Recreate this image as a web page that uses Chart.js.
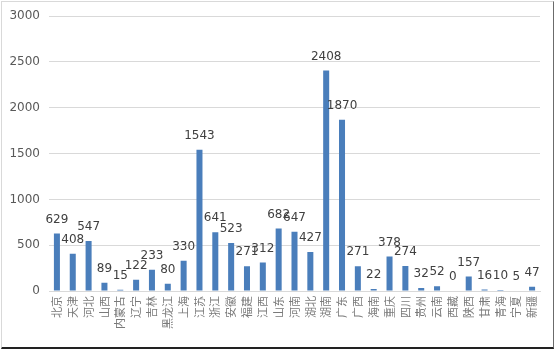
<!DOCTYPE html>
<html>
<head>
<meta charset="utf-8">
<script src="https://cdn.jsdelivr.net/npm/chart.js@4/dist/chart.umd.min.js"></script>
<style>
  html, body { margin: 0; padding: 0; background: #fff; }
  #wrap { position: relative; width: 556px; height: 350px; overflow: hidden; }
  #c { position: absolute; left: 0; top: 0; }
  #frame {
    position: absolute; left: 1px; top: 1px; width: 551px; height: 345px;
    border-left: 1px solid #d9d9d9; border-top: 1px solid #d9d9d9;
    border-right: 1px solid #6b6b6b; border-bottom: 2px solid #222;
    pointer-events: none;
  }
</style>
</head>
<body>
<div id="wrap">
  <canvas id="c" width="556" height="350"></canvas>
  <div id="frame"></div>
</div>
<script>
// Provinces and their counts
const provinces = ['北京','天津','河北','山西','内蒙古','辽宁','吉林','黑龙江','上海','江苏',
  '浙江','安徽','福建','江西','山东','河南','湖北','湖南','广东','广西',
  '海南','重庆','四川','贵州','云南','西藏','陕西','甘肃','青海','宁夏','新疆'];
const counts = [629, 408, 547, 89, 15, 122, 233, 80, 330, 1543,
  641, 523, 271, 312, 682, 647, 427, 2408, 1870, 271,
  22, 378, 274, 32, 52, 0, 157, 16, 10, 5, 47];
const yTicks = [0, 500, 1000, 1500, 2000, 2500, 3000];

// Writes each bar's value above it
const valueLabels = {
  id: 'valueLabels',
  afterDatasetsDraw(chart) {
    const ctx = chart.ctx;
    const meta = chart.getDatasetMeta(0);
    ctx.save();
    ctx.font = '12px "DejaVu Sans"';
    ctx.fillStyle = '#404040';
    ctx.textAlign = 'center';
    ctx.textBaseline = 'middle';
    meta.data.forEach((bar, i) => {
      ctx.fillText(String(counts[i]), bar.x, bar.y - 14);
    });
    ctx.restore();
  }
};

new Chart(document.getElementById('c'), {
  type: 'bar',
  data: {
    labels: provinces,
    datasets: [{
      data: counts,
      backgroundColor: '#4a7ebb',
      barPercentage: 0.38,
      categoryPercentage: 1
    }]
  },
  options: {
    responsive: false,
    animation: false,
    devicePixelRatio: 1,
    layout: { padding: { top: 15, right: 16, left: 0, bottom: 0 } },
    plugins: { legend: { display: false }, tooltip: { enabled: false } },
    scales: {
      x: {
        grid: { display: false, drawTicks: false },
        border: { display: true, color: '#d9d9d9' },
        ticks: {
          autoSkip: false,
          maxRotation: 90,
          minRotation: 90,
          padding: 5,
          color: '#7a7a7a',
          font: { family: '"Noto Sans CJK SC"', size: 11 }
        },
        afterFit(scale) { scale.height = 59; }
      },
      y: {
        min: 0,
        max: 3000,
        afterBuildTicks(scale) { scale.ticks = yTicks.map(v => ({ value: v })); },
        grid: { color: '#d9d9d9', drawTicks: false },
        border: { display: false },
        ticks: {
          padding: 9,
          color: '#595959',
          font: { family: '"DejaVu Sans"', size: 12 },
          callback: (v) => String(v)
        },
        afterFit(scale) { scale.width = 49; }
      }
    }
  },
  plugins: [valueLabels]
});
</script>
</body>
</html>
